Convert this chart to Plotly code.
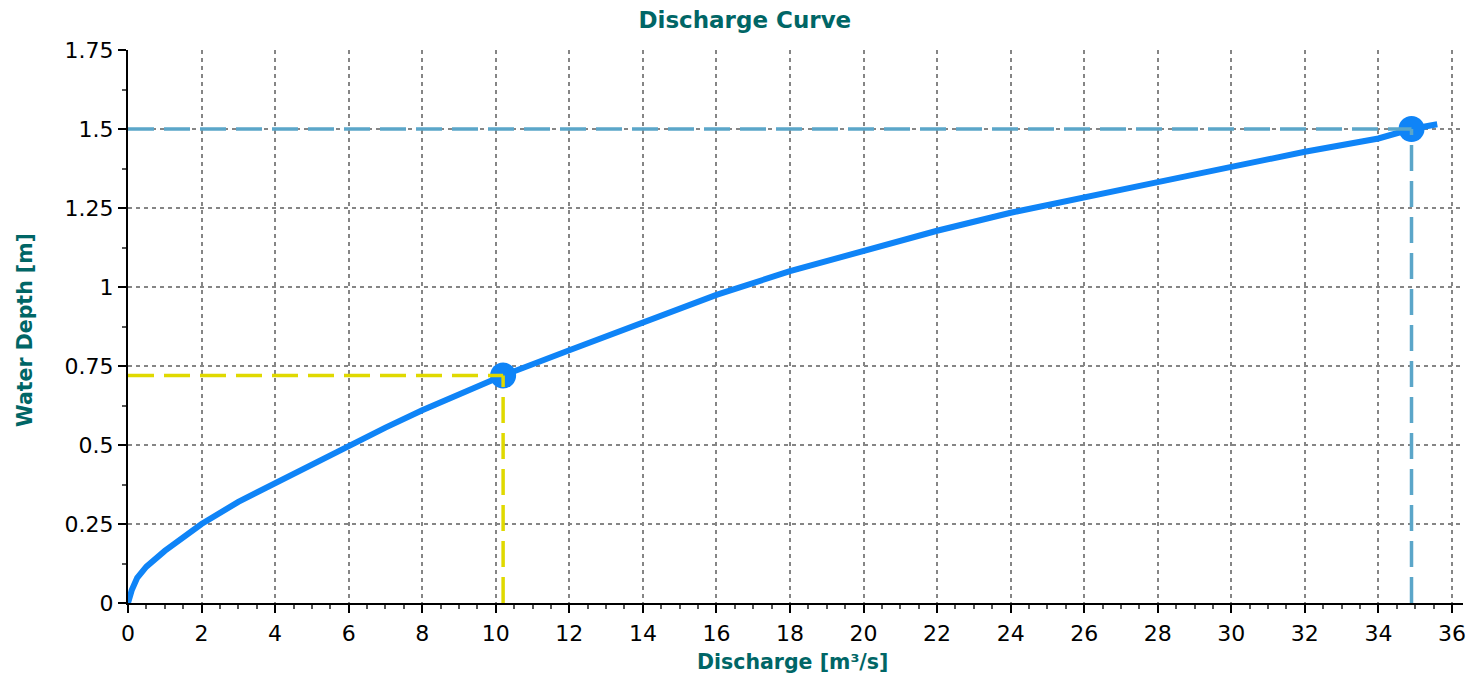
import plotly.graph_objects as go

# Discharge curve data
discharge = [0, 0.1, 0.25, 0.5, 1, 1.5, 2, 3, 4, 5, 6, 7, 8, 9, 10.2, 12, 14, 16, 18,
             20, 22, 24, 26, 28, 30, 32, 34, 34.9, 35.6]
depth = [0, 0.04, 0.08, 0.115, 0.165, 0.205, 0.25, 0.32, 0.38, 0.44, 0.5, 0.555, 0.61,
         0.66, 0.72, 0.80, 0.89, 0.975, 1.05, 1.115, 1.178, 1.235, 1.285, 1.332, 1.38,
         1.428, 1.47, 1.5, 1.515]

# Highlighted points
point_q = [10.2, 34.9]
point_h = [0.72, 1.5]
point_colors = ["#E0D900", "#5BA6C9"]

curve_color = "#0F84F7"
teal = "#006666"
font_family = "DejaVu Sans, Verdana, sans-serif"

fig = go.Figure()

fig.add_trace(go.Scatter(x=discharge, y=depth, mode="lines",
                         line=dict(color=curve_color, width=6), showlegend=False,
                         hoverinfo="skip"))
fig.add_trace(go.Scatter(x=point_q, y=point_h, mode="markers",
                         marker=dict(color=curve_color, size=26), showlegend=False))

for q, h, c in zip(point_q, point_h, point_colors):
    fig.add_trace(go.Scatter(x=[0, q], y=[h, h], mode="lines",
                             line=dict(color=c, width=3.5, dash="26px,10px"),
                             showlegend=False, hoverinfo="skip"))
    fig.add_trace(go.Scatter(x=[q, q], y=[0, h], mode="lines",
                             line=dict(color=c, width=3.5, dash="26px,10px"),
                             showlegend=False, hoverinfo="skip"))

axis_common = dict(
    showline=True, linecolor="black", linewidth=2,
    ticks="outside", ticklen=8, tickwidth=2, tickcolor="black",
    showgrid=True, gridcolor="#858585", gridwidth=1.6, griddash="4px,4px",
    zeroline=False, automargin=False,
    tickfont=dict(family=font_family, size=22, color="black"),
)

fig.update_layout(
    width=1472, height=674,
    margin=dict(l=128, r=9, t=50, b=71),
    plot_bgcolor="white", paper_bgcolor="white",
    font=dict(family=font_family),
    title=dict(text="<b>Discharge Curve</b>", x=0.506, xanchor="center",
               y=0.97, yanchor="middle",
               font=dict(family=font_family, size=23, color=teal)),
    xaxis=dict(range=[0, 36.3], dtick=2, tick0=0, ticklabelstandoff=2,
               minor=dict(ticks="outside", ticklen=4, tickwidth=1.5,
                          tickcolor="#555", dtick=0.5, showgrid=False),
               **axis_common),
    yaxis=dict(range=[0, 1.75], dtick=0.25, tick0=0,
               minor=dict(ticks="outside", ticklen=4, tickwidth=1.5,
                          tickcolor="#555", dtick=0.125, showgrid=False),
               **axis_common),
    annotations=[
        dict(text="<b>Discharge [m³/s]</b>", xref="paper", yref="paper",
             x=0.498, y=-0.1065, xanchor="center", yanchor="middle",
             showarrow=False, font=dict(family=font_family, size=20.5, color=teal)),
        dict(text="<b>Water Depth [m]</b>", xref="paper", yref="paper",
             x=-0.0772, y=0.4937, xanchor="center", yanchor="middle", textangle=-90,
             showarrow=False, font=dict(family=font_family, size=20.5, color=teal)),
    ],
)

fig.write_html(
    "out.html",
    config={"displayModeBar": False},
    post_script="document.body.style.margin='0';document.body.style.overflow='hidden';",
)
